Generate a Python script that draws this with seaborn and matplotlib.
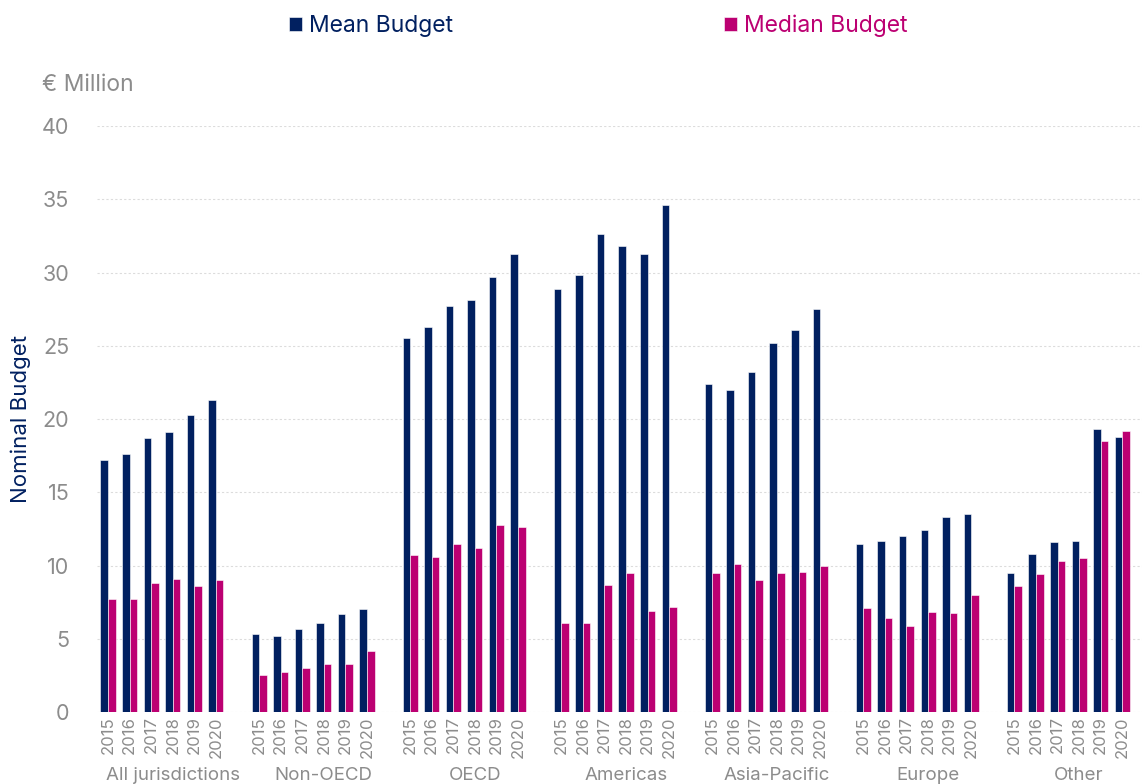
import matplotlib.pyplot as plt
import matplotlib.transforms as mtransforms
import pandas as pd
import seaborn as sns

groups = ['All jurisdictions', 'Non-OECD', 'OECD', 'Americas', 'Asia-Pacific', 'Europe', 'Other']
years = ['2015', '2016', '2017', '2018', '2019', '2020']

# € million, one list per group (2015..2020)
mean_budget = [
    [17.2, 17.6, 18.7, 19.1, 20.3, 21.3],
    [5.35, 5.2, 5.7, 6.1, 6.7, 7.0],
    [25.5, 26.3, 27.7, 28.1, 29.7, 31.3],
    [28.9, 29.8, 32.6, 31.8, 31.3, 34.6],
    [22.4, 22.0, 23.2, 25.2, 26.1, 27.5],
    [11.5, 11.7, 12.0, 12.4, 13.3, 13.5],
    [9.5, 10.8, 11.6, 11.7, 19.3, 18.8],
]
median_budget = [
    [7.7, 7.7, 8.8, 9.1, 8.6, 9.0],
    [2.5, 2.75, 3.0, 3.25, 3.25, 4.15],
    [10.7, 10.6, 11.5, 11.2, 12.8, 12.6],
    [6.1, 6.1, 8.7, 9.5, 6.9, 7.2],
    [9.5, 10.1, 9.0, 9.5, 9.55, 10.0],
    [7.1, 6.4, 5.9, 6.8, 6.75, 8.0],
    [8.6, 9.4, 10.3, 10.5, 18.5, 19.2],
]
series = ['Mean Budget', 'Median Budget']

navy = '#012060'
magenta = '#BC0072'
grey = '#8c8c8c'

rows = []
order = []
tick_labels = []
for g, group in enumerate(groups):
    for i, year in enumerate(years):
        key = '%s|%s' % (group, year)
        order.append(key)
        tick_labels.append(year)
        rows.append({'slot': key, 'series': series[0], 'value': mean_budget[g][i]})
        rows.append({'slot': key, 'series': series[1], 'value': median_budget[g][i]})
    if g < len(groups) - 1:
        order.append('gap%d' % g)
        tick_labels.append('')
df = pd.DataFrame(rows)

sns.set_theme(style='white')
plt.rcParams['font.family'] = ['Inter', 'DejaVu Sans']

fig = plt.figure(figsize=(11.44, 7.84), dpi=100)
ax = fig.add_axes([0.085, 0.0918, 0.913, 0.7474])

sns.barplot(data=df, x='slot', y='value', hue='series', order=order, hue_order=series,
            palette=[navy, magenta], width=0.7, saturation=1, edgecolor='white',
            linewidth=0.4, ax=ax)

ax.set_ylim(0, 40)
ax.set_xlim(-0.5, len(order) - 0.1)
ax.set_yticks(range(0, 41, 5))
ax.yaxis.grid(True, color='#dcdcdc', linestyle=(0, (2, 2)), linewidth=0.8)
ax.set_axisbelow(True)
sns.despine(ax=ax, left=True, bottom=True)

ax.set_xticks(range(len(order)))
ax.set_xticklabels(tick_labels, rotation=90)
ax.tick_params(axis='x', length=0, pad=3, labelsize=12, labelcolor=grey)
ax.tick_params(axis='y', length=0, pad=20, labelsize=15.5, labelcolor=grey)
ax.set_xlabel('')
ax.set_ylabel('Nominal Budget', color=navy, fontsize=16, labelpad=8)

trans = mtransforms.blended_transform_factory(ax.transData, ax.transAxes)
for g, group in enumerate(groups):
    ax.text(g * 7 + 3, -0.108, group, transform=trans, ha='center', va='center',
            fontsize=13.5, color=grey)

fig.text(0.037, 0.891, '€ Million', fontsize=16.5, color=grey, va='center', ha='left')

sns.move_legend(ax, 'upper center', bbox_to_anchor=(0.523, 0.993), bbox_transform=fig.transFigure,
                ncol=2, frameon=False, title=None, fontsize=16.5, handlelength=0.55,
                handleheight=0.55, handletextpad=0.3, columnspacing=11.85, borderaxespad=0)
for text, color in zip(ax.get_legend().get_texts(), [navy, magenta]):
    text.set_color(color)

fig.savefig('out.png', dpi=100)
